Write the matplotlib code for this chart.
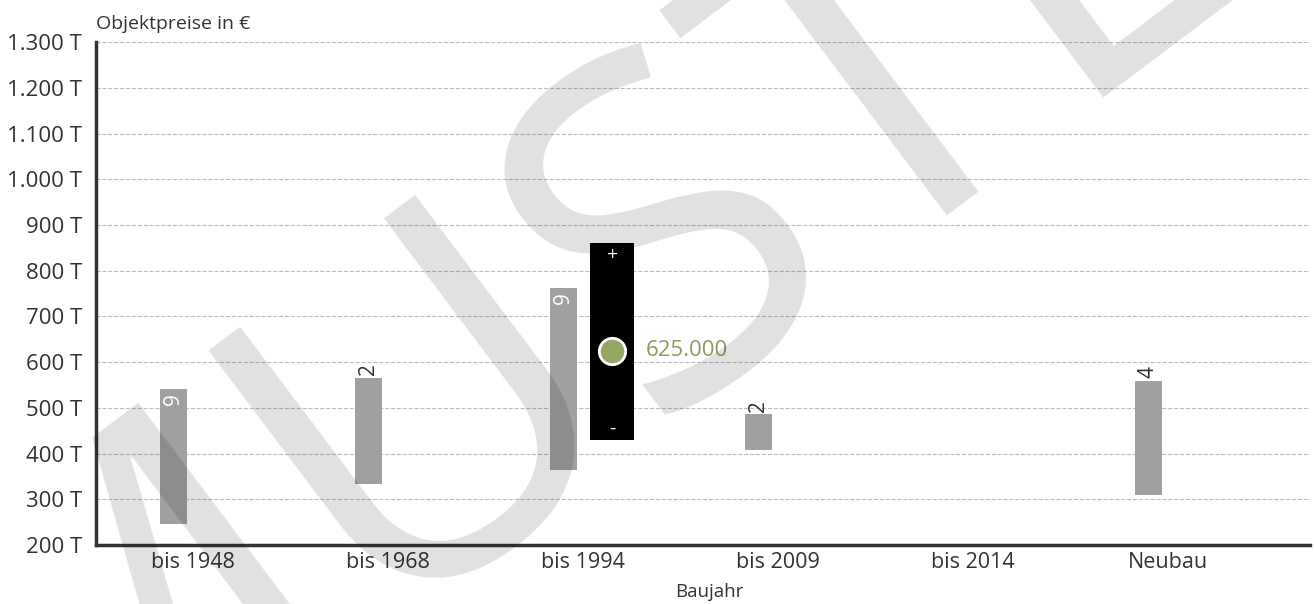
import numpy as np
import matplotlib.pyplot as plt

plt.rcParams['font.family'] = ['Open Sans', 'DejaVu Sans']

categories = ['bis 1948', 'bis 1968', 'bis 1994', 'bis 2009', 'bis 2014', 'Neubau']
low = [246, 333, 364, 408, None, 309]
high = [541, 565, 762, 486, None, 559]
counts = [9, 2, 9, 2, None, 4]
sel_low, sel_high, sel_value = 430, 860, 625

w = 0.138

fig = plt.figure(figsize=(13.14, 6.04), dpi=100)
ax = fig.add_axes([0.073, 0.0977, 0.924, 0.8323])

for i in range(len(categories)):
    if low[i] is None:
        continue
    ax.bar(i, high[i] - low[i], bottom=low[i], width=w, color='#a0a0a0', zorder=2)
    if counts[i] >= 5:
        ax.text(i, high[i] - 8, str(counts[i]), rotation=90, color='white',
                ha='center', va='top', fontsize=15, zorder=4)
    else:
        ax.text(i, high[i] + 6, str(counts[i]), rotation=90, color='#333333',
                ha='center', va='bottom', fontsize=15, zorder=4)

# selected range box
bx = 2.25
ax.bar(bx, sel_high - sel_low, bottom=sel_low, width=0.226, color='black', zorder=3)
ax.text(bx, sel_high - 25, '+', color='white', ha='center', va='center', fontsize=14, zorder=4)
ax.text(bx, sel_low + 25, '-', color='white', ha='center', va='center', fontsize=14, zorder=4)
ax.scatter([bx], [sel_value], s=360, color='#93a862', edgecolor='white', linewidth=2, zorder=5)
ax.text(bx + 0.17, sel_value, '625.000', color='#8a9c5c', ha='left', va='center', fontsize=16, zorder=5)

ax.set_xlim(-0.4, 5.83)
ax.set_ylim(200, 1300)
ax.set_yticks(range(200, 1301, 100))
ax.set_yticklabels([f'{v:,} T'.replace(',', '.') for v in range(200, 1301, 100)], fontsize=16, color='#333333')
ax.set_xticks([i + 0.1 for i in range(len(categories))])
ax.set_xticklabels(categories, fontsize=15.5, color='#333333')
ax.tick_params(axis='y', length=0, pad=10)
ax.tick_params(axis='x', length=0, pad=5)
ax.grid(axis='y', linestyle='--', color='#bbbbbb', linewidth=0.8, zorder=0)
for s in ['top', 'right']:
    ax.spines[s].set_visible(False)
for s in ['left', 'bottom']:
    ax.spines[s].set_color('#333333')
    ax.spines[s].set_linewidth(2.5)

ax.set_xlabel('Baujahr', fontsize=13.5, color='#333333', labelpad=4)
ax.xaxis.set_label_coords(0.505, -0.075)
fig.text(0.073, 0.945, 'Objektpreise in €', fontsize=14, color='#333333', ha='left', va='bottom')

# watermark
fig.text(0.526, 0.637, 'MUSTER', fontsize=340, color='black', alpha=0.12,
         rotation=37, ha='center', va='center', zorder=10)

fig.savefig('out.png', dpi=100)
